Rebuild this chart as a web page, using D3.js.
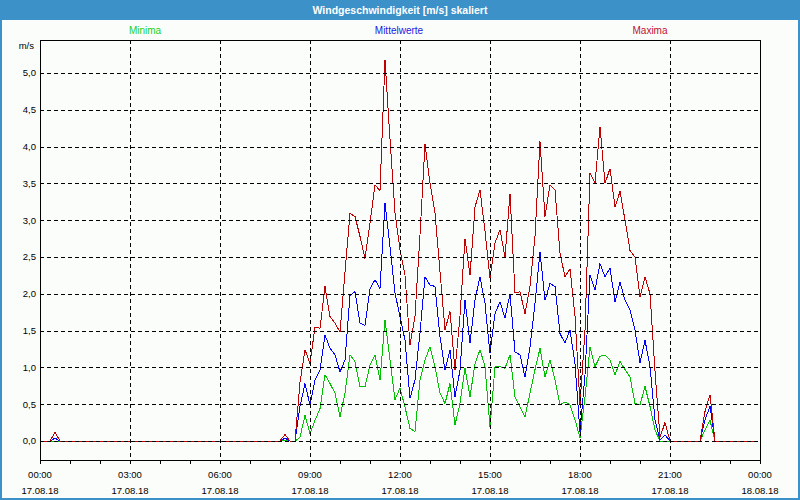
<!DOCTYPE html>
<html>
<head>
<meta charset="utf-8">
<script src="https://cdn.jsdelivr.net/npm/d3@7"></script>
<style>
  body { margin: 0; background: #ffffff; }
  svg { display: block; }
</style>
</head>
<body>
<svg id="chart" width="800" height="500"></svg>
<script>
// ---------------- DATA ----------------
const chartTitle = "Windgeschwindigkeit [m/s] skaliert";
const seriesNames = ["Minima", "Mittelwerte", "Maxima"];
const unitLabel = "m/s";
const stepMinutes = 10; // one value every 10 minutes, starting 17.08.18 00:00

// Minima (m/s), 144 values 00:00 .. 23:50
const minima = [
  0,0,0,0,0,0,0,0,0,0,0,0,          // 00:00-01:50
  0,0,0,0,0,0,0,0,0,0,0,0,          // 02:00-03:50
  0,0,0,0,0,0,0,0,0,0,0,0,          // 04:00-05:50
  0,0,0,0,0,0,0,0,0,0,0,0,          // 06:00-07:50
  0,0.01,0,0,0.05,0.35,0.10,0.28,0.44,0.90,0.78,0.65,   // 08:00-09:50
  0.33,0.65,1.17,1.08,0.74,0.74,1.03,1.17,0.83,1.64,1.10,0.56, // 10:00-11:50
  0.72,0.46,0.17,0.13,0.83,1.10,1.28,1.01,0.65,0.51,0.78,0.22, // 12:00-13:50
  0.51,0.99,0.60,1.05,1.24,1.01,0.19,1.01,1.01,0.99,1.17,0.60, // 14:00-15:50
  0.46,0.33,0.65,0.97,1.26,0.87,1.10,0.83,0.49,0.53,0.49,0.29, // 16:00-17:50
  0.04,0.60,1.28,1.01,1.15,1.17,1.10,0.90,1.08,0.97,0.87,0.51, // 18:00-19:50
  0.49,0.74,0.47,0.15,0,0,0,0,0,0,0,0,                         // 20:00-21:50
  0,0.15,0.28,0,0,0,0,0,0,0,0,0                                // 22:00-23:50
];

// Mittelwerte (m/s)
const mittelwerte = [
  0,0,0,0.04,0,0,0,0,0,0,0,0,
  0,0,0,0,0,0,0,0,0,0,0,0,
  0,0,0,0,0,0,0,0,0,0,0,0,
  0,0,0,0,0,0,0,0,0,0,0,0,
  0,0.04,0,0,0.47,0.78,0.49,0.83,0.96,1.44,1.26,1.17,
  0.94,1.10,1.98,2.03,1.60,1.57,2.07,2.19,2.07,3.23,2.64,2.01,
  1.69,1.37,0.58,0.83,1.47,2.23,2.12,2.10,1.42,0.96,1.24,0.60,
  0.96,1.92,1.33,1.92,2.23,1.87,1.19,1.73,1.89,1.67,2.00,1.21,
  1.17,0.87,1.28,1.87,2.57,1.91,2.14,2.10,1.46,1.33,1.51,1.05,
  0.12,0.90,2.26,2.05,2.41,2.23,2.35,1.89,2.16,1.91,1.78,1.51,
  1.06,1.37,1.01,0.29,0.01,0.08,0,0,0,0,0,0,
  0,0.29,0.47,0,0,0,0,0,0,0,0,0
];

// Maxima (m/s)
const maxima = [
  0,0,0,0.12,0,0,0,0,0,0,0,0,
  0,0,0,0,0,0,0,0,0,0,0,0,
  0,0,0,0,0,0,0,0,0,0,0,0,
  0,0,0,0,0,0,0,0,0,0,0,0,
  0,0.09,0,0,0.80,1.24,1.05,1.55,1.53,2.10,1.69,1.60,
  1.48,2.30,3.09,3.05,2.78,2.48,2.96,3.48,3.40,5.18,4.10,3.10,
  2.60,2.25,1.30,1.70,2.80,4.03,3.50,3.10,2.30,1.51,1.76,0.96,
  1.70,2.75,2.25,3.18,3.41,2.85,2.21,2.69,2.87,2.50,3.36,2.01,
  2.03,1.73,2.10,2.78,4.07,3.05,3.48,3.41,2.55,2.23,2.34,1.70,
  0.50,1.50,3.64,3.50,4.27,3.50,3.70,3.18,3.39,3.00,2.59,2.50,
  1.96,2.23,2.00,0.95,0.05,0.25,0,0,0,0,0,0,
  0,0.40,0.63,0,0,0,0,0,0,0,0,0
];

const yTicks = [0, 0.5, 1, 1.5, 2, 2.5, 3, 3.5, 4, 4.5, 5];
const xTickHours = [0, 3, 6, 9, 12, 15, 18, 21, 24];
const xTimeLabels = ["00:00","03:00","06:00","09:00","12:00","15:00","18:00","21:00","00:00"];
const xDateLabels = ["17.08.18","17.08.18","17.08.18","17.08.18","17.08.18","17.08.18","17.08.18","17.08.18","18.08.18"];
const seriesColors = ["#00c000", "#0000ff", "#c00000"];
const legendColors = ["#20d020", "#2020e0", "#c01030"];

// ---------------- LAYOUT ----------------
const W = 800, H = 500;
const plot = { left: 40, right: 760, top: 40, bottom: 460 };
const FONT = "'Liberation Sans', Arial, sans-serif";

const svg = d3.select("#chart");

// background + frame
svg.append("rect").attr("x", 0).attr("y", 0).attr("width", W).attr("height", H).attr("fill", "#3c91c8");
svg.append("rect").attr("x", 2).attr("y", 20).attr("width", W - 4).attr("height", H - 22).attr("fill", "#fbfdfb");

// title
svg.append("text")
  .attr("x", W / 2).attr("y", 14)
  .attr("text-anchor", "middle")
  .attr("font-family", FONT).attr("font-size", 10.5).attr("font-weight", "bold")
  .attr("fill", "#ffffff")
  .text(chartTitle);

// scales
const x = d3.scaleLinear().domain([0, 24]).range([plot.left, plot.right]);
const y = d3.scaleLinear().domain([0, 5]).range([441, 73]);

const locale = d3.formatLocale({ decimal: ",", thousands: ".", grouping: [3], currency: ["", "€"] });
const fmt = locale.format(".1f");

// legend
const legendX = [145, 399, 650];
seriesNames.forEach((name, k) => {
  svg.append("text")
    .attr("x", legendX[k]).attr("y", 34)
    .attr("text-anchor", "middle")
    .attr("font-family", FONT).attr("font-size", 10)
    .attr("fill", legendColors[k])
    .text(name);
});

// unit label
svg.append("text")
  .attr("x", 34).attr("y", 49)
  .attr("text-anchor", "end")
  .attr("font-family", FONT).attr("font-size", 9.5)
  .attr("fill", "#000")
  .text(unitLabel);

// data lines
const toPoints = arr => arr.map((v, i) => [i * stepMinutes / 60, v]);
const line = d3.line().x(d => x(d[0])).y(d => y(d[1]));
const gLines = svg.append("g");
[minima, mittelwerte, maxima].forEach((arr, k) => {
  gLines.append("path")
    .datum(toPoints(arr))
    .attr("d", line)
    .attr("fill", "none")
    .attr("stroke", seriesColors[k])
    .attr("stroke-width", 1)
    .attr("shape-rendering", "crispEdges");
});

// grid (dashed) drawn over the data
const gGrid = svg.append("g").attr("shape-rendering", "crispEdges");
yTicks.forEach(t => {
  const yy = Math.round(y(t)) + 0.5;
  gGrid.append("line")
    .attr("x1", plot.left).attr("x2", plot.right)
    .attr("y1", yy).attr("y2", yy)
    .attr("stroke", "#000").attr("stroke-width", 1)
    .attr("stroke-dasharray", "4,3");
});
xTickHours.slice(1, -1).forEach(h => {
  const xx = Math.round(x(h)) + 0.5;
  gGrid.append("line")
    .attr("x1", xx).attr("x2", xx)
    .attr("y1", plot.top).attr("y2", plot.bottom)
    .attr("stroke", "#000").attr("stroke-width", 1)
    .attr("stroke-dasharray", "4,3");
});

// plot frame
svg.append("rect")
  .attr("x", plot.left + 0.5).attr("y", plot.top + 0.5)
  .attr("width", plot.right - plot.left).attr("height", plot.bottom - plot.top)
  .attr("fill", "none").attr("stroke", "#000").attr("stroke-width", 1)
  .attr("shape-rendering", "crispEdges");

// y axis labels
yTicks.forEach(t => {
  svg.append("text")
    .attr("x", 36).attr("y", y(t))
    .attr("dy", "0.35em")
    .attr("text-anchor", "end")
    .attr("font-family", FONT).attr("font-size", 9.5)
    .attr("fill", "#000")
    .text(fmt(t));
});

// x axis: hourly ticks below frame
const hourTicks = d3.range(0, 25);
const gX = svg.append("g").attr("shape-rendering", "crispEdges");
hourTicks.forEach(h => {
  const xx = Math.round(x(h)) + 0.5;
  gX.append("line")
    .attr("x1", xx).attr("x2", xx)
    .attr("y1", plot.bottom).attr("y2", plot.bottom + 4)
    .attr("stroke", "#000");
});
xTickHours.forEach((h, k) => {
  svg.append("text")
    .attr("x", x(h)).attr("y", 478)
    .attr("text-anchor", "middle")
    .attr("font-family", FONT).attr("font-size", 9.5)
    .attr("fill", "#000")
    .text(xTimeLabels[k]);
  svg.append("text")
    .attr("x", x(h)).attr("y", 494)
    .attr("text-anchor", "middle")
    .attr("font-family", FONT).attr("font-size", 9.5)
    .attr("fill", "#000")
    .text(xDateLabels[k]);
});
</script>
</body>
</html>
